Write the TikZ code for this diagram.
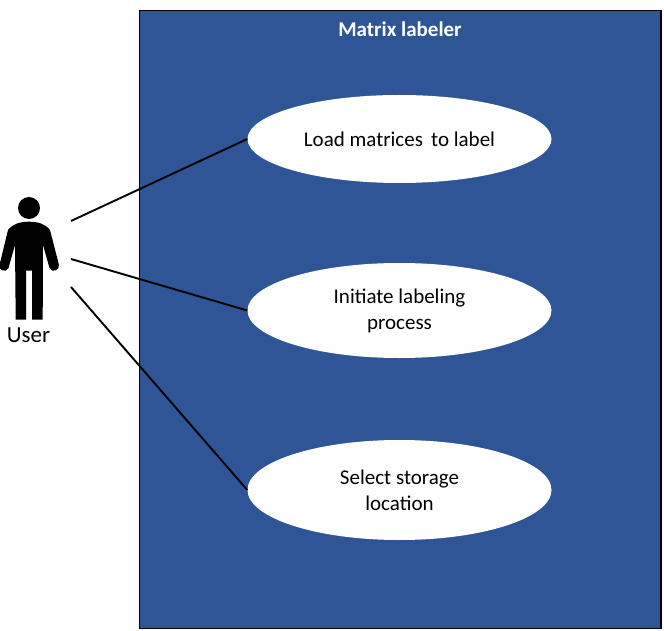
\documentclass[tikz,border=0pt]{standalone}
\usepackage{fontspec}
\setmainfont{Carlito}
\usetikzlibrary{shapes.geometric}
\definecolor{sysblue}{HTML}{2F5597}
\tikzset{
  x=1pt,y=-1pt,
  usecase/.style={ellipse,fill=white,inner sep=0pt,minimum width=304pt,align=center,font=\fontsize{21}{26}\selectfont,text=black},
  assoc/.style={draw=black,line width=1.9pt},
}
\begin{document}
\begin{tikzpicture}
\useasboundingbox (0,0) rectangle (664,631);
\node[draw=black,fill=sysblue,line width=1.2pt,minimum width=521.5pt,minimum height=618pt,inner sep=0pt] (system) at (400.3,319.5) {};
\node[text=white,font=\fontsize{21}{24}\selectfont\bfseries] (title) at (400,29.5) {Matrix labeler};
\coordinate (u1) at (71,221);
\coordinate (u2) at (71,259);
\coordinate (u3) at (71,287);
\node[usecase,minimum height=88pt] (load) at (399.5,139) {Load matrices\, to label};
\node[usecase,minimum height=95pt] (init) at (399.5,310.5) {\raisebox{-2pt}{Initiate labeling}\\\raisebox{-2pt}{process}};
\node[usecase,minimum height=100pt] (store) at (399.5,490) {Select storage\\location};
\draw[assoc] (u1) -- (load.west);
\draw[assoc] (u2) -- (init.west);
\draw[assoc] (u3) -- (store.west);
\fill[black] (29,208) circle (11);
\fill[black] (29,221.7) .. controls (37,221.7) and (45,223.5) .. (50,230)
  -- (59,265) .. controls (60,270) and (52,273.5) .. (49.5,268)
  -- (43,245) -- (42.7,319.5) -- (32,319.5) -- (32,270.7) -- (26,270.7) -- (26,319.5) -- (15.7,319.5)
  -- (15,245) -- (8.5,268) .. controls (6,273.5) and (-2,270) .. (-0.5,265)
  -- (8,230) .. controls (13,223.5) and (21,221.7) .. (29,221.7) -- cycle;
\node[text=black,font=\fontsize{23}{28}\selectfont] (user) at (28.5,335) {User};
\end{tikzpicture}
\end{document}
